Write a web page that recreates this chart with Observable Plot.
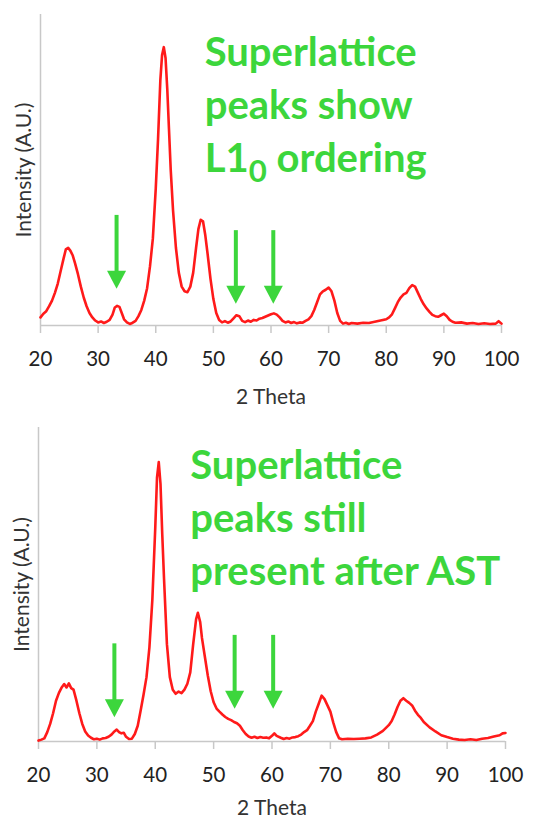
<!DOCTYPE html>
<html>
<head>
<meta charset="utf-8">
<script src="https://cdn.jsdelivr.net/npm/d3@7"></script>
<script src="https://cdn.jsdelivr.net/npm/@observablehq/plot@0.6"></script>
<style>
  html, body { margin: 0; padding: 0; background: #fff; }
  #chart > svg, #chart > figure { display: block; margin: 0; }
</style>
</head>
<body>
<div id="chart"></div>
<script>
// ---- Top panel: as-made sample ----
const topTheta = [20, 20.5, 21, 21.5, 22, 22.5, 23, 23.5, 24, 24.4, 24.8, 25.2, 25.6, 26, 26.5, 27, 27.5, 28, 28.5, 29, 29.5, 30, 30.5, 31, 31.5, 32, 32.5, 32.9, 33.3, 33.7, 34.1, 34.5, 35, 35.5, 36, 36.5, 37, 37.5, 38, 38.5, 39, 39.5, 40, 40.4, 40.8, 41.1, 41.4, 41.7, 42, 42.3, 42.6, 43, 43.5, 44, 44.5, 45, 45.5, 46, 46.5, 47, 47.4, 47.8, 48.2, 48.6, 49, 49.5, 50, 50.5, 51, 51.5, 52, 52.5, 53, 53.5, 54, 54.5, 55, 55.5, 56, 56.5, 57, 57.5, 58, 58.5, 59, 59.5, 60, 60.5, 61, 61.5, 62, 62.5, 63, 63.5, 64, 64.5, 65, 65.5, 66, 66.5, 67, 67.5, 68, 68.5, 69, 69.5, 70, 70.5, 71, 71.5, 72, 72.5, 73, 73.5, 74, 75, 76, 77, 78, 79, 80, 80.5, 81, 81.5, 82, 82.5, 83, 83.5, 84, 84.5, 85, 85.5, 86, 86.5, 87, 87.5, 88, 88.5, 89, 89.5, 90, 90.5, 91, 91.5, 92, 93, 94, 95, 96, 97, 98, 99, 99.5, 100];
const topIntensity = [2.6, 3.8, 4.6, 6.2, 8.0, 10.5, 13.5, 17.5, 21.5, 24.5, 25, 24, 22.5, 20, 16.5, 12.5, 9, 6.2, 4, 2.6, 1.6, 1.0, 1.3, 0.8, 1.2, 1.8, 3.5, 5.8, 6.3, 6.0, 4.0, 2.0, 1.0, 0.5, 0.9, 1.5, 3.0, 5, 8, 12, 19, 28, 44, 60, 79, 87, 89.5, 86, 76, 63, 50, 37, 25, 17, 12.5, 11, 10.7, 12.5, 17, 25, 31, 34, 33.5, 29, 23, 15, 8.5, 4, 1.8, 1.0, 1.4, 0.9, 1.3, 2.3, 3.3, 3.0, 1.5, 1.1, 1.6, 1.2, 1.8, 1.6, 2.2, 2.4, 2.8, 3.2, 3.6, 3.9, 3.5, 2.6, 1.5, 1.0, 1.3, 0.8, 1.1, 0.7, 1.0, 0.9, 1.5, 2.0, 3.0, 5.0, 7.5, 10, 11, 11.5, 12.2, 11, 8, 4, 1.5, 0.6, 0.9, 0.5, 0.8, 0.6, 0.9, 0.8, 1.2, 1.6, 2.0, 2.6, 3.6, 5.5, 7.5, 9, 10, 10.5, 12, 13, 12.5, 10.5, 8.5, 6.8, 5.5, 4.4, 3.4, 3.0, 2.8, 3.3, 3.8, 3.0, 1.8, 1.2, 0.9, 1.0, 0.6, 0.8, 0.5, 0.7, 0.5, 0.6, 1.4, 0.6];
const topArrowTheta = [33.2, 53.9, 60.4];
const topArrowTop = [35.4, 30.5, 30.5];
const topArrowTip = [11.8, 7, 7];
const topNote = "Superlattice\npeaks show\nL1₀ ordering";

// ---- Bottom panel: after AST ----
const botTheta = [20, 20.5, 21, 21.5, 22, 22.5, 23, 23.5, 24, 24.4, 24.8, 25.2, 25.6, 26, 26.5, 27, 27.5, 28, 28.5, 29, 29.5, 30, 30.5, 31, 31.5, 32, 32.5, 33, 33.4, 33.8, 34.2, 34.6, 35, 35.5, 36, 36.5, 37, 37.5, 38, 38.5, 39, 39.5, 40, 40.3, 40.6, 40.9, 41.2, 41.5, 42, 42.5, 43, 43.5, 44, 44.5, 45, 45.5, 46, 46.5, 47, 47.3, 47.7, 48, 48.5, 49, 49.5, 50, 50.5, 51, 51.5, 52, 52.5, 53, 53.5, 54, 54.5, 55, 55.5, 56, 56.5, 57, 57.5, 58, 58.5, 59, 59.5, 60, 60.4, 60.8, 61.5, 62, 62.5, 63, 63.5, 64, 64.5, 65, 65.5, 66, 66.5, 67, 67.5, 68, 68.5, 69, 69.5, 70, 70.5, 71, 71.5, 72, 73, 74, 75, 76, 77, 78, 79, 80, 80.5, 81, 81.5, 82, 82.5, 83, 83.5, 84, 84.5, 85, 85.5, 86, 87, 88, 89, 90, 91, 92, 93, 94, 95, 96, 97, 98, 99, 99.5, 100];
const botIntensity = [0.3, 0.6, 1.0, 3, 5.6, 9, 13, 15.5, 17.3, 18.3, 17.2, 18.5, 17, 16.5, 13, 9, 5.6, 3.2, 1.9, 1.2, 0.7, 0.9, 0.6, 1.0, 1.1, 1.5, 2.2, 3.2, 3.8, 3.0, 2.6, 2.8, 1.5, 0.8, 0.9, 2.4, 5, 9.9, 15, 20.5, 30, 45, 68, 84, 89, 82, 66, 52, 31, 20.5, 16.5, 15.2, 15.9, 15.4, 16.5, 18.4, 22, 31, 39, 41, 38, 33, 27, 21, 16, 12.5, 10.5, 9.5, 8.6, 7.8, 7.2, 6.8, 6.2, 5.8, 5.0, 3.6, 2.4, 1.6, 1.2, 1.5, 1.1, 1.4, 1.2, 1.3, 1.0, 1.8, 2.6, 1.8, 1.2, 0.8, 1.1, 0.9, 1.3, 1.4, 1.7, 2.2, 3.0, 3.6, 5, 6.5, 9.5, 12, 14.6, 13.5, 11.5, 9.5, 6, 3, 1, 0.7, 0.9, 0.8, 0.9, 1.0, 1.3, 2.2, 3.4, 5.2, 6.5, 8.6, 11, 13, 13.8, 13, 12.3, 11.5, 9.8, 8.5, 7.5, 6.2, 4.5, 3.2, 2.0, 1.4, 0.9, 0.6, 0.5, 0.7, 0.5, 0.9, 1.1, 1.6, 2.0, 2.6, 2.7];
const botArrowTheta = [33.0, 53.6, 60.2];
const botArrowTop = [31.1, 33.8, 33.8];
const botArrowTip = [7.7, 10.4, 10.4];
const botNote = "Superlattice\npeaks still\npresent after AST";

const xTicks = [20, 30, 40, 50, 60, 70, 80, 90, 100];
const xLabel = "2 Theta";
const yLabel = "Intensity (A.U.)";

const RED = "#ff1a1a";
const GREEN = "#3cd63c";
const AXIS = "#c8c8c8";
const TEXT = "#222";
const FONT = "Lato, 'Open Sans', sans-serif";

// filled, downward-pointing arrow head whose tip sits at the anchor point
const arrowHead = {
  draw(context, size) {
    const r = Math.sqrt(size / Math.PI);
    const hw = 1.36 * r, h = 2.57 * r;
    context.moveTo(0, 0);
    context.lineTo(-hw, -h);
    context.lineTo(hw, -h);
    context.closePath();
  }
};

function subscriptZero(svg) {
  d3.select(svg).selectAll("tspan, text").each(function () {
    if (this.children.length === 0 && this.textContent.includes("₀")) {
      const [before, after] = this.textContent.split("₀");
      const el = d3.select(this);
      el.text(null);
      el.append("tspan").text(before);
      el.append("tspan").attr("dy", "10px").attr("font-size", "0.78em").text("0");
      el.append("tspan").attr("dy", "-10px").text(after);
    }
  });
  return svg;
}

function panel({theta, intensity, aTheta, aTop, aTip, note, noteX, noteY, height, mTop, mBottom, mLeft, mRight, labelDy}) {
  const pts = theta.map((t, i) => ({t, v: intensity[i]}));
  const arrows = aTheta.map((t, i) => ({t, top: aTop[i], tip: aTip[i]}));
  return subscriptZero(Plot.plot({
    width: 538,
    height,
    marginTop: mTop,
    marginBottom: mBottom,
    marginLeft: mLeft,
    marginRight: mRight,
    style: {fontFamily: FONT, background: "#fff", overflow: "visible"},
    x: {domain: [20, 100]},
    y: {domain: [0, 100], axis: null},
    marks: [
      Plot.ruleX([20], {stroke: AXIS, strokeWidth: 1.5}),
      Plot.axisX({ticks: xTicks, tickSize: 8, tickPadding: 18, stroke: AXIS, strokeWidth: 1.5, fontSize: 20.5, color: TEXT, label: null, tickFormat: d => String(d)}),
      Plot.ruleY([0], {stroke: AXIS, strokeWidth: 1.5}),
      Plot.line(pts, {x: "t", y: "v", stroke: RED, strokeWidth: 2.6, strokeLinejoin: "round"}),
      Plot.ruleX(arrows, {x: "t", y1: "top", y2: "tip", stroke: GREEN, strokeWidth: 4, insetBottom: 8}),
      Plot.dot(arrows, {x: "t", y: "tip", symbol: arrowHead, r: 7, fill: GREEN, stroke: "none"}),
      Plot.text([note], {x: noteX, y: noteY, text: d => d, textAnchor: "start", lineAnchor: "bottom", lineHeight: 1.33, fontSize: 40, fontWeight: "bold", fill: GREEN}),
      Plot.text([xLabel], {frameAnchor: "bottom", dy: labelDy, text: d => d, textAnchor: "middle", lineAnchor: "middle", fontSize: 21, fill: "#333"}),
      Plot.text([yLabel], {frameAnchor: "left", dx: -16, rotate: -90, text: d => d, textAnchor: "middle", lineAnchor: "middle", fontSize: 21, fill: "#333"})
    ]
  }));
}

const chart = document.getElementById("chart");
chart.append(panel({theta: topTheta, intensity: topIntensity, aTheta: topArrowTheta, aTop: topArrowTop, aTip: topArrowTip,
  note: topNote, noteX: 48.5, noteY: 49.2, height: 410, mTop: 14, mBottom: 85, mLeft: 40, mRight: 37, labelDy: 72}));
chart.append(panel({theta: botTheta, intensity: botIntensity, aTheta: botArrowTheta, aTop: botArrowTop, aTip: botArrowTip,
  note: botNote, noteX: 46.0, noteY: 49.7, height: 412, mTop: 17, mBottom: 81, mLeft: 38, mRight: 33, labelDy: 67}));
</script>
</body>
</html>
